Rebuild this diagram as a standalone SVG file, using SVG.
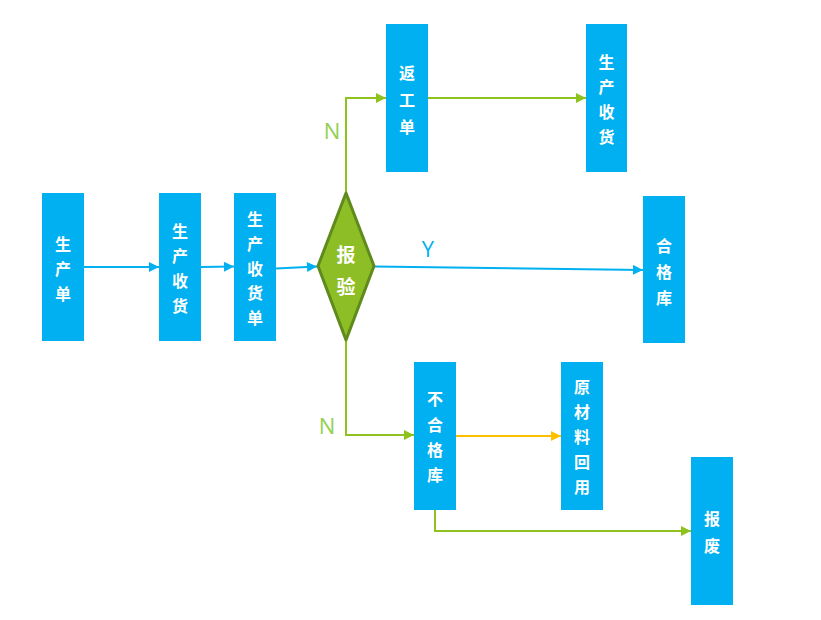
<svg xmlns="http://www.w3.org/2000/svg" width="821" height="620" viewBox="0 0 821 620">
<defs>
<style>
.box{fill:#00B0F0}
.t{fill:#fff;font-family:"Noto Sans CJK SC","Noto Sans",sans-serif;font-size:16px;font-weight:bold;text-anchor:middle;dominant-baseline:central}
.lb{stroke:#00B0F0;stroke-width:2;fill:none}
.lg{stroke:#8DC21F;stroke-width:2;fill:none}
.lo{stroke:#FFC000;stroke-width:2;fill:none}
.lab{font-family:"Open Sans","Liberation Sans",sans-serif;font-size:22px;text-anchor:middle;dominant-baseline:central}
</style>
<marker id="ab" viewBox="0 0 10 10" refX="10" refY="5" markerWidth="12" markerHeight="10" markerUnits="userSpaceOnUse" orient="auto"><path d="M0,0L10,5L0,10z" fill="#00B0F0"/></marker>
<marker id="ag" viewBox="0 0 10 10" refX="10" refY="5" markerWidth="12" markerHeight="10" markerUnits="userSpaceOnUse" orient="auto"><path d="M0,0L10,5L0,10z" fill="#8DC21F"/></marker>
<marker id="ao" viewBox="0 0 10 10" refX="10" refY="5" markerWidth="12" markerHeight="10" markerUnits="userSpaceOnUse" orient="auto"><path d="M0,0L10,5L0,10z" fill="#FFC000"/></marker>
</defs>
<rect width="821" height="620" fill="#fff"/>
<g id="connectors">
<path class="lb" d="M84,267H159" marker-end="url(#ab)"/>
<path class="lb" d="M201,267L234,266.5" marker-end="url(#ab)"/>
<path class="lb" d="M276,268.5L317,266.5" marker-end="url(#ab)"/>
<path class="lb" d="M374,266.5L643,270" marker-end="url(#ab)"/>
<path class="lg" d="M346,193V98H386" marker-end="url(#ag)"/>
<path class="lg" d="M428,98H586" marker-end="url(#ag)"/>
<path class="lg" d="M346,340V435H414" marker-end="url(#ag)"/>
<path class="lo" d="M456,436H561" marker-end="url(#ao)"/>
<path class="lg" d="M435,510V531H691" marker-end="url(#ag)"/>
<text class="lab" x="332" y="130" fill="#92D050">N</text>
<text class="lab" x="428" y="248" fill="#00B0F0">Y</text>
<text class="lab" x="327" y="425" fill="#92D050">N</text>
</g>
<g id="n1"><rect class="box" x="42" y="193" width="42" height="148"/>
<text class="t" x="63"><tspan x="63" y="243">生</tspan><tspan x="63" y="268">产</tspan><tspan x="63" y="293">单</tspan></text></g>
<g id="n2"><rect class="box" x="159" y="193" width="42" height="148"/>
<text class="t"><tspan x="180" y="230">生</tspan><tspan x="180" y="255">产</tspan><tspan x="180" y="280">收</tspan><tspan x="180" y="305">货</tspan></text></g>
<g id="n3"><rect class="box" x="234" y="193" width="42" height="148"/>
<text class="t"><tspan x="255" y="218">生</tspan><tspan x="255" y="243">产</tspan><tspan x="255" y="268">收</tspan><tspan x="255" y="292">货</tspan><tspan x="255" y="317">单</tspan></text></g>
<g id="n4"><path d="M346,193L374,266L346,340L318,266Z" fill="#8DBE26" stroke="#5F8A1C" stroke-width="3" stroke-linejoin="round"/>
<text class="t" style="font-size:19px"><tspan x="346" y="253">报</tspan><tspan x="346" y="285">验</tspan></text></g>
<g id="n5"><rect class="box" x="386" y="24" width="42" height="148"/>
<text class="t"><tspan x="407" y="72">返</tspan><tspan x="407" y="99">工</tspan><tspan x="407" y="126">单</tspan></text></g>
<g id="n6"><rect class="box" x="586" y="24" width="41" height="148"/>
<text class="t"><tspan x="606.5" y="61">生</tspan><tspan x="606.5" y="86">产</tspan><tspan x="606.5" y="111">收</tspan><tspan x="606.5" y="136">货</tspan></text></g>
<g id="n7"><rect class="box" x="643" y="196" width="42" height="147"/>
<text class="t"><tspan x="664" y="245">合</tspan><tspan x="664" y="271">格</tspan><tspan x="664" y="297">库</tspan></text></g>
<g id="n8"><rect class="box" x="414" y="362" width="42" height="148"/>
<text class="t"><tspan x="435" y="398">不</tspan><tspan x="435" y="424">合</tspan><tspan x="435" y="449">格</tspan><tspan x="435" y="474">库</tspan></text></g>
<g id="n9"><rect class="box" x="561" y="362" width="42" height="148"/>
<text class="t"><tspan x="582" y="386">原</tspan><tspan x="582" y="411">材</tspan><tspan x="582" y="436">料</tspan><tspan x="582" y="461">回</tspan><tspan x="582" y="486">用</tspan></text></g>
<g id="n10"><rect class="box" x="691" y="457" width="42" height="148"/>
<text class="t"><tspan x="712" y="518">报</tspan><tspan x="712" y="545">废</tspan></text></g>
</svg>
